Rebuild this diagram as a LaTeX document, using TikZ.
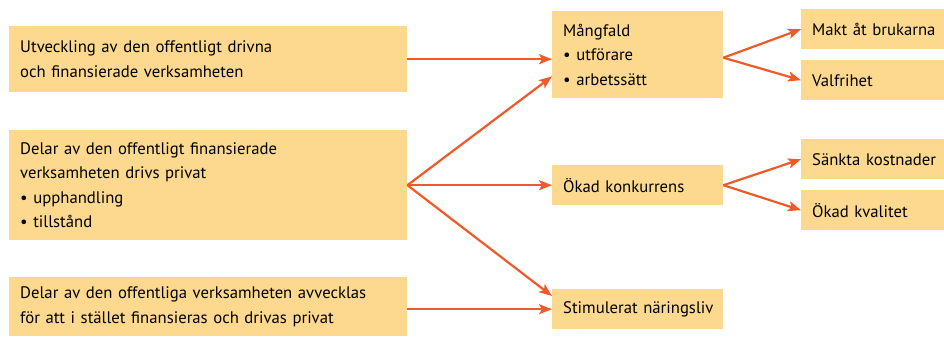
\documentclass[tikz,border=0pt]{standalone}
\usepackage{fontspec}
\setmainfont{PT Sans}
\usetikzlibrary{arrows.meta}
\definecolor{boxfill}{HTML}{FDD98F}
\definecolor{arrowred}{HTML}{EF5A28}
\begin{document}
\begin{tikzpicture}[x=1pt,y=-1pt,
  box/.style={fill=boxfill, anchor=north west, inner xsep=11pt, inner ysep=0pt,
    align=left, font=\fontsize{16.7}{24.5}\selectfont},
  widebox/.style={box, minimum width=398pt, text width=376pt},
  midbox/.style={box, minimum width=171pt, text width=149pt},
  endbox/.style={box, minimum width=143pt, text width=121pt},
  arr/.style={draw=arrowred, line width=2.2pt,
    -{Stealth[length=13pt,width=10pt,inset=3pt]}}]
\useasboundingbox (0,0) rectangle (944,338);

% left column: sources
\node[widebox, minimum height=66pt] (src1) at (9,26)
  {Utveckling av den offentligt drivna\\och finansierade verksamheten};
\node[widebox, minimum height=110pt] (src2) at (9,130)
  {Delar av den offentligt finansierade\\verksamheten drivs privat\\\textbullet\ upphandling\\\textbullet\ tillstånd};
\node[widebox, minimum height=59pt] (src3) at (9,277)
  {\mbox{Delar av den offentliga verksamheten avvecklas}\\\mbox{för att i stället finansieras och drivas privat}};

% middle column: effects
\node[midbox, minimum height=87pt] (mang) at (552,11)
  {Mångfald\\\textbullet\ utförare\\\textbullet\ arbetssätt};
\node[midbox, minimum height=40pt] (konk) at (552,165) {\mbox{Ökad konkurrens}};
\node[midbox, minimum height=40pt] (stim) at (552,289) {\mbox{Stimulerat näringsliv}};

% right column: outcomes
\node[endbox, minimum height=40pt] (makt) at (801,9) {\mbox{Makt åt brukarna}};
\node[endbox, minimum height=40pt] (valf) at (801,60) {Valfrihet};
\node[endbox, minimum height=40pt] (sank) at (801,139) {\mbox{Sänkta kostnader}};
\node[endbox, minimum height=40pt] (kval) at (801,190) {\mbox{Ökad kvalitet}};

% connectors
\draw[arr] (src1.east) -- (src1.east -| mang.west);
\draw[arr] (src2.east) -- ([yshift=22pt]mang.south west);
\draw[arr] (src2.east) -- (konk.west);
\draw[arr] (src2.east) -- ([yshift=-7pt]stim.north west);
\draw[arr] (src3.east |- stim.west) -- (stim.west);

\draw[arr] ([yshift=-3pt]mang.east) -- (makt.west);
\draw[arr] ([yshift=-3pt]mang.east) -- (valf.west);
\draw[arr] (konk.east) -- (sank.west);
\draw[arr] (konk.east) -- (kval.west);
\end{tikzpicture}
\end{document}
